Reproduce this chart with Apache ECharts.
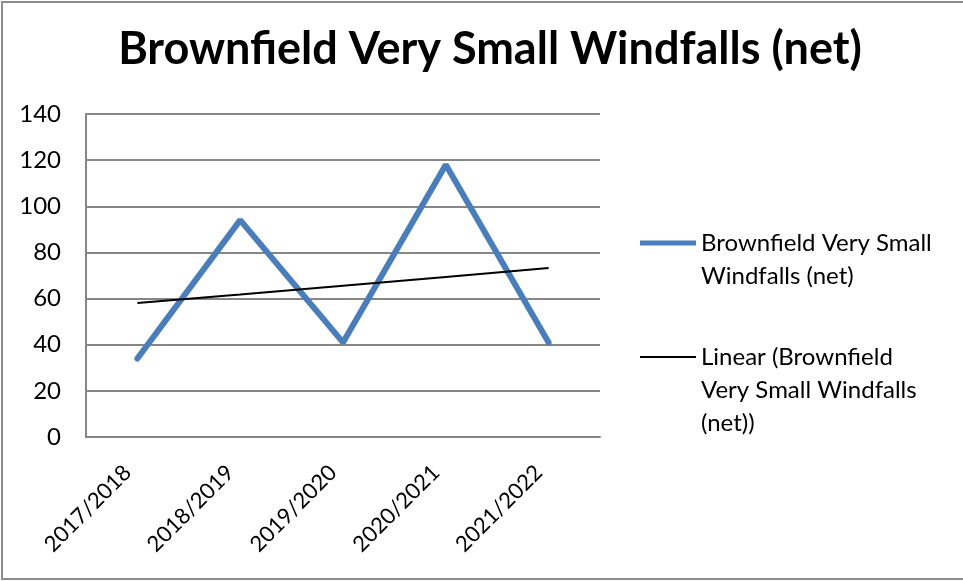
<!DOCTYPE html>
<html>
<head>
<meta charset="utf-8">
<title>Brownfield Very Small Windfalls (net)</title>
<script src="https://cdn.jsdelivr.net/npm/echarts@6/dist/echarts.min.js"></script>
<style>
  html, body { margin: 0; padding: 0; background: #fff; }
  #chart { width: 963px; height: 581px; }
</style>
</head>
<body>
<div id="chart"></div>
<script>
var years = ['2017/2018', '2018/2019', '2019/2020', '2020/2021', '2021/2022']
var windfalls = [34, 94, 41, 118, 41]
// linear trendline
var trend = [58.1, 61.8, 65.6, 69.4, 73.2]
var yTicks = [0, 20, 40, 60, 80, 100, 120, 140]

var seriesName = 'Brownfield Very Small Windfalls (net)'
var trendName = 'Linear (Brownfield Very Small Windfalls (net))'

var font = 'Lato, sans-serif'
var legendFont = { fontFamily: font, fontSize: 24, fill: '#000' }

var myChart = echarts.init(document.getElementById('chart'))
var option = {
  animation: false,
  title: {
    text: 'Brownfield Very Small Windfalls (net)',
    left: 485,
    textAlign: 'center',
    top: 22,
    textStyle: {
      fontFamily: font,
      fontWeight: 'bold',
      fontSize: 45,
      color: '#000'
    }
  },
  graphic: [
    {
      type: 'rect',
      silent: true,
      shape: { x: 2, y: 2, width: 1000, height: 577 },
      style: { fill: 'none', stroke: '#8c8c8c', lineWidth: 2 }
    },
    // wrapped legend lines (first line belongs to the legend itself)
    {
      type: 'text',
      silent: true,
      x: 701,
      y: 276,
      style: Object.assign({ text: 'Windfalls (net)', verticalAlign: 'middle' }, legendFont)
    },
    {
      type: 'text',
      silent: true,
      x: 701,
      y: 390,
      style: Object.assign({ text: 'Very Small Windfalls', verticalAlign: 'middle' }, legendFont)
    },
    {
      type: 'text',
      silent: true,
      x: 701,
      y: 423,
      style: Object.assign({ text: '(net))', verticalAlign: 'middle' }, legendFont)
    }
  ],
  legend: [
    {
      left: 640,
      top: 227,
      padding: 0,
      itemWidth: 56,
      itemHeight: 5,
      icon: 'rect',
      data: [{ name: seriesName, itemStyle: { color: '#4a7ebb' } }],
      formatter: function () {
        return 'Brownfield Very Small'
      },
      textStyle: {
        fontFamily: font,
        fontSize: 24,
        color: '#000',
        lineHeight: 32
      }
    },
    {
      left: 640,
      top: 341,
      padding: 0,
      itemWidth: 56,
      itemHeight: 2,
      icon: 'rect',
      data: [{ name: trendName, itemStyle: { color: '#000' } }],
      formatter: function () {
        return 'Linear (Brownfield'
      },
      textStyle: {
        fontFamily: font,
        fontSize: 24,
        color: '#000',
        lineHeight: 32
      }
    }
  ],
  grid: {
    left: 86,
    right: 363,
    top: 114,
    bottom: 144
  },
  xAxis: {
    type: 'category',
    data: years,
    boundaryGap: true,
    axisLine: { lineStyle: { color: '#868686', width: 2 } },
    axisTick: { show: false },
    axisLabel: {
      rotate: 45,
      margin: 22,
      padding: [0, 14, 0, 0],
      fontFamily: font,
      fontSize: 22,
      color: '#000'
    }
  },
  yAxis: {
    type: 'value',
    min: yTicks[0],
    max: yTicks[yTicks.length - 1],
    interval: 20,
    axisLine: { show: true, lineStyle: { color: '#868686', width: 2 } },
    axisTick: { show: false },
    splitLine: { lineStyle: { color: '#868686', width: 2 } },
    axisLabel: {
      margin: 25,
      fontFamily: font,
      fontSize: 24,
      color: '#000'
    }
  },
  series: [
    {
      name: seriesName,
      type: 'line',
      data: windfalls,
      symbol: 'none',
      lineStyle: { color: '#4a7ebb', width: 6, cap: 'round' },
      itemStyle: { color: '#4a7ebb' }
    },
    {
      name: trendName,
      type: 'line',
      data: trend,
      symbol: 'none',
      lineStyle: { color: '#000', width: 2 },
      itemStyle: { color: '#000' }
    }
  ]
}
myChart.setOption(option)
</script>
</body>
</html>
